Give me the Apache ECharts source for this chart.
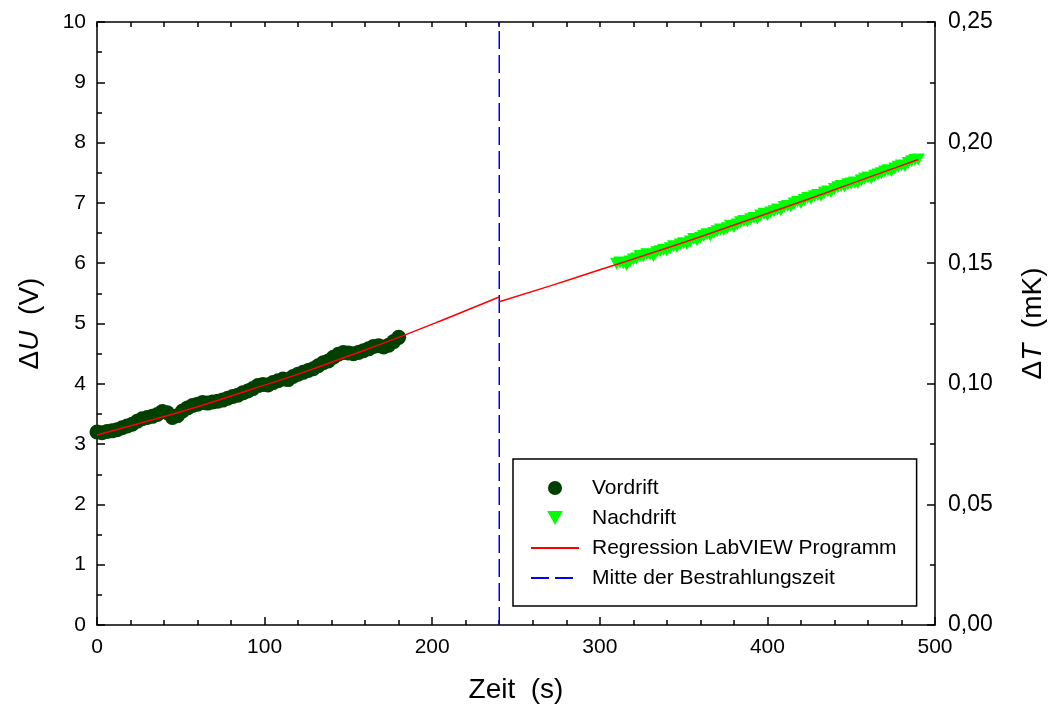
<!DOCTYPE html>
<html><head><meta charset="utf-8">
<script src="https://cdn.jsdelivr.net/npm/echarts@6/dist/echarts.min.js"></script>
<style>html,body{margin:0;padding:0;background:#fff}#c{width:1053px;height:711px}</style>
</head><body><div id="c"></div>
<script>
// Vordrift: time (s), ΔU (V)
const vorTime = [0,3,6,9,12,15,18,21,24,27,30,33,36,39,42,45,48,51,54,57,60,63,66,69,72,75,78,81,84,87,90,93,96,99,102,105,108,111,114,117,120,123,126,129,132,135,138,141,144,147,150,153,156,159,162,165,168,171,174,177,180];
const vorU = [3.20,3.19,3.21,3.22,3.24,3.27,3.30,3.33,3.38,3.42,3.44,3.46,3.49,3.54,3.52,3.44,3.47,3.55,3.60,3.64,3.66,3.69,3.68,3.70,3.71,3.73,3.76,3.79,3.81,3.85,3.88,3.92,3.97,3.99,3.98,4.02,4.05,4.08,4.07,4.12,4.16,4.19,4.22,4.25,4.30,4.35,4.38,4.44,4.49,4.52,4.51,4.50,4.52,4.55,4.58,4.62,4.63,4.61,4.64,4.70,4.77];
// Nachdrift: time (s), ΔU (V)
const nachTime = [310,312,314,316,318,320,322,324,326,328,330,332,334,336,338,340,342,344,346,348,350,352,354,356,358,360,362,364,366,368,370,372,374,376,378,380,382,384,386,388,390,392,394,396,398,400,402,404,406,408,410,412,414,416,418,420,422,424,426,428,430,432,434,436,438,440,442,444,446,448,450,452,454,456,458,460,462,464,466,468,470,472,474,476,478,480,482,484,486,488,490];
const nachU = [5.99,6.01,6.00,5.97,6.03,6.06,6.08,6.12,6.11,6.15,6.14,6.12,6.18,6.20,6.22,6.21,6.25,6.28,6.27,6.31,6.33,6.32,6.36,6.40,6.38,6.42,6.45,6.48,6.46,6.50,6.53,6.56,6.55,6.58,6.62,6.60,6.64,6.68,6.70,6.69,6.73,6.75,6.74,6.79,6.82,6.80,6.84,6.86,6.89,6.88,6.93,6.95,6.94,6.99,7.02,7.00,7.05,7.08,7.07,7.11,7.13,7.12,7.17,7.19,7.18,7.23,7.26,7.28,7.27,7.31,7.32,7.34,7.33,7.37,7.40,7.42,7.41,7.45,7.47,7.49,7.52,7.54,7.53,7.57,7.60,7.62,7.61,7.66,7.69,7.71,7.72];
// Regression curves
const regLeftTime = [0,30,60,90,120,150,180,210,240];
const regLeftU = [3.15,3.38,3.62,3.89,4.16,4.46,4.77,5.10,5.44];
const regRightTime = [240,270,300,330,360,390,420,450,490];
const regRightU = [5.36,5.62,5.89,6.16,6.44,6.73,7.02,7.32,7.72];
// Middle of irradiation time
const midTime = [240,240];
const midU = [0,10];

const zip = (a,b) => a.map((v,i)=>[v,b[i]]);
const FONT = '"Liberation Sans", Arial, sans-serif';
const chart = echarts.init(document.getElementById('c'), null, {renderer:'canvas'});
const axisLine = {show:true, onZero:false, lineStyle:{color:'#000', width:1.5}};
const redLine = {color:'#ff0000', width:1.5};
const TICK = 21, TICK_R = 23, TITLE = 28;
const tickStyle = {color:'#000', width:1.5};
const rich = {n:{fontFamily:FONT, fontSize:TITLE, color:'#000'}, i:{fontFamily:FONT, fontSize:TITLE, fontStyle:'italic', color:'#000'}};
chart.setOption({
  animation:false,
  backgroundColor:'#fff',
  textStyle:{fontFamily:FONT},
  grid:{left:97, right:118, top:22, bottom:86, containLabel:false, outerBoundsMode:'none'},
  legend:{
    left:513, top:459, orient:'vertical',
    backgroundColor:'#fff', borderColor:'#000', borderWidth:1.5,
    padding:[18,20,17,17], itemGap:8, itemWidth:48, itemHeight:14,
    textStyle:{fontFamily:FONT, fontSize:21, lineHeight:22, color:'#000', padding:[0,0,0,8]},
    data:[
      {name:'Vordrift', icon:'circle'},
      {name:'Nachdrift', icon:'path://M0,0 L10,0 L5,9 Z'},
      {name:'Regression LabVIEW Programm', itemStyle:{opacity:0}},
      {name:'Mitte der Bestrahlungszeit', itemStyle:{opacity:0}}
    ]
  },
  xAxis:[
    {type:'value', position:'bottom', min:0, max:500, interval:100,
     axisLine, splitLine:{show:false},
     axisTick:{inside:true, length:8, lineStyle:tickStyle},
     minorTick:{show:true, splitNumber:5, length:5, lineStyle:tickStyle},
     axisLabel:{fontFamily:FONT, fontSize:TICK, color:'#000', margin:12},
     name:'Zeit  (s)', nameLocation:'middle', nameGap:51,
     nameTextStyle:{fontFamily:FONT, fontSize:TITLE, color:'#000'}},
    {type:'value', position:'top', min:0, max:500, interval:100,
     axisLine, splitLine:{show:false},
     axisTick:{inside:true, length:5, lineStyle:tickStyle},
     minorTick:{show:true, splitNumber:5, length:5, lineStyle:tickStyle},
     axisLabel:{show:false}}
  ],
  yAxis:[
    {type:'value', position:'left', min:0, max:10, interval:1,
     axisLine, splitLine:{show:false},
     axisTick:{inside:true, length:8, lineStyle:tickStyle},
     minorTick:{show:true, splitNumber:2, length:5, lineStyle:tickStyle},
     axisLabel:{fontFamily:FONT, fontSize:TICK, color:'#000', margin:11},
     name:'{n|Δ}{i|U}{n|  (V)}', nameLocation:'middle', nameGap:53, nameRotate:90,
     nameTextStyle:{fontFamily:FONT, fontSize:TITLE, color:'#000', rich}},
    {type:'value', position:'right', min:0, max:0.25, interval:0.05,
     axisLine, splitLine:{show:false},
     axisTick:{inside:true, length:8, lineStyle:tickStyle},
     minorTick:{show:true, splitNumber:2, length:5, lineStyle:tickStyle},
     axisLabel:{fontFamily:FONT, fontSize:TICK_R, color:'#000', margin:13,
       formatter:v=>v.toFixed(2).replace('.',',')},
     name:'{n|Δ}{i|T}{n|  (mK)}', nameLocation:'middle', nameGap:84, nameRotate:90,
     nameTextStyle:{fontFamily:FONT, fontSize:TITLE, color:'#000', rich}}
  ],
  series:[
    {name:'Vordrift', type:'scatter', data:zip(vorTime, vorU), symbol:'circle', symbolSize:15,
     itemStyle:{color:'#004000', opacity:1}, z:2},
    {name:'Nachdrift', type:'scatter', data:zip(nachTime, nachU), symbol:'path://M0,0 L10,0 L5,9 Z', symbolSize:[13,12],
     itemStyle:{color:'#00ff00', opacity:1}, z:2},
    {name:'Regression LabVIEW Programm', type:'line', data:zip(regLeftTime, regLeftU), smooth:true,
     showSymbol:false, symbol:'none', lineStyle:redLine, itemStyle:{color:'#ff0000'}, z:4},
    {name:'Regression LabVIEW Programm', type:'line', data:zip(regRightTime, regRightU), smooth:true,
     showSymbol:false, symbol:'none', lineStyle:redLine, itemStyle:{color:'#ff0000'}, z:4},
    {name:'Mitte der Bestrahlungszeit', type:'line', data:zip(midTime, midU),
     showSymbol:false, symbol:'none', lineStyle:{color:'#0000ff', width:1.5, type:[18,6]}, itemStyle:{color:'#0000ff'}, z:3}
  ]
});
</script></body></html>
